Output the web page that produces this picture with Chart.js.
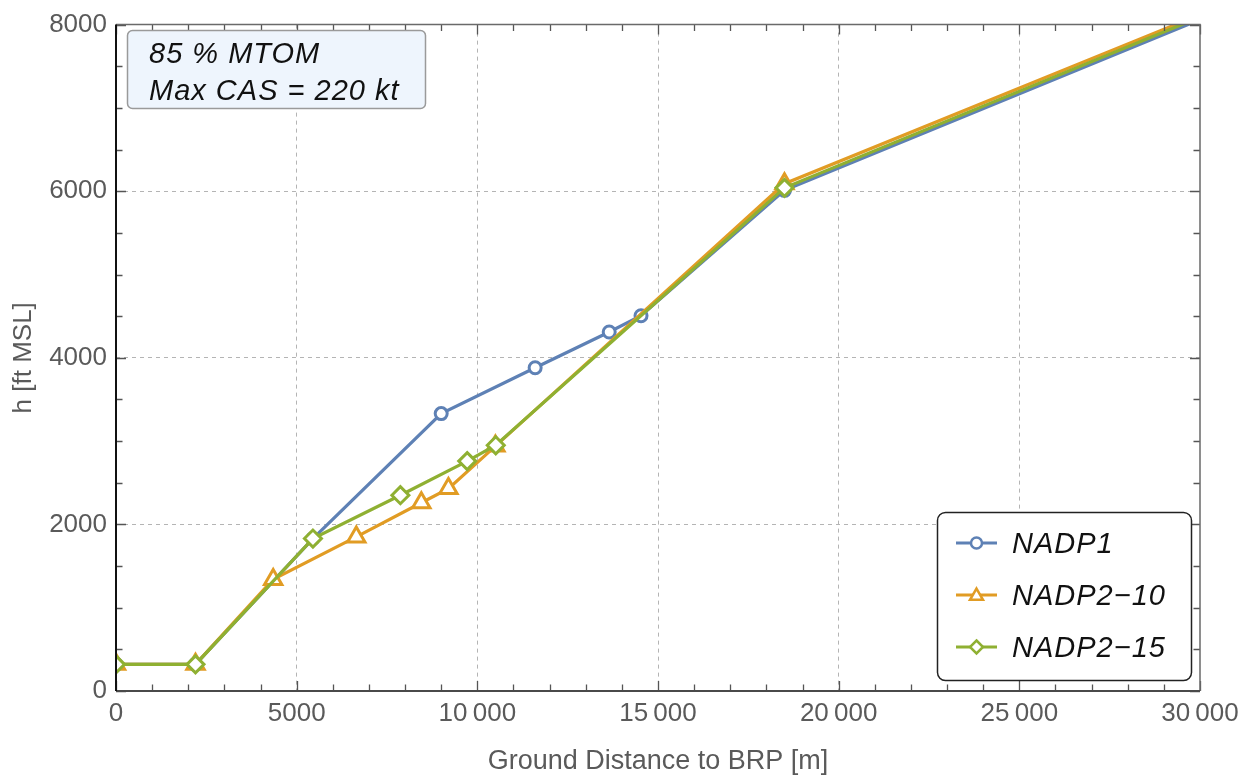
<!DOCTYPE html>
<html lang="en">
<head>
  <meta charset="UTF-8" />
  <title>NADP climb profiles</title>
  <script src="https://cdn.jsdelivr.net/npm/chart.js"></script>
  <style>
    body { margin: 0; background: #fff; }
    .wrap { position: relative; width: 1256px; height: 776px; }
  </style>
</head>
<body>
  <div class="wrap"><canvas id="climbChart"></canvas></div>

  <script>
    // ground distance [m] and altitude [ft MSL] per procedure
    const xNADP1 = [0, 2200, 5450, 9000, 11600, 13650, 14530, 18500, 30000];
    const yNADP1 = [320, 320, 1830, 3330, 3880, 4310, 4505, 6010, 8060];

    const xNADP2_10 = [0, 2200, 4350, 6650, 8450, 9200, 10500, 18500, 30000];
    const yNADP2_10 = [320, 320, 1340, 1850, 2260, 2430, 2940, 6090, 8120];

    const xNADP2_15 = [0, 2200, 5450, 7870, 9720, 10510, 18500, 30000];
    const yNADP2_15 = [320, 320, 1830, 2350, 2760, 2950, 6040, 8090];

    const seriesNames = ['NADP1', 'NADP2\u221210', 'NADP2\u221215'];
    const seriesColors = ['#5e81b5', '#e19c24', '#8fb032'];

    const xTicksMajor = [0, 5000, 10000, 15000, 20000, 25000, 30000];
    const yTicksMajor = [0, 2000, 4000, 6000, 8000];
    const xMinorStep = 1000;
    const yMinorStep = 500;

    const noteLines = ['85 % MTOM', 'Max CAS = 220 kt'];

    const FONT = "'Liberation Sans', Arial, sans-serif";

    const toPoints = (xs, ys) => xs.map((x, i) => ({ x: x, y: ys[i] }));
    const lastHidden = r => ctx => ctx.dataIndex === ctx.dataset.data.length - 1 ? 0 : r;

    function fmtTick(v) {
      if (v >= 10000) {
        const s = String(v);
        return s.slice(0, s.length - 3) + '\u2009' + s.slice(-3);
      }
      return String(v);
    }

    function marker(ctx, style, x, y, r) {
      ctx.beginPath();
      if (style === 'circle') {
        ctx.arc(x, y, r, 0, Math.PI * 2);
      } else if (style === 'triangle') {
        for (let k = 0; k < 3; k++) {
          const a = -Math.PI / 2 + k * 2 * Math.PI / 3;
          const px = x + Math.cos(a) * r, py = y + Math.sin(a) * r;
          k ? ctx.lineTo(px, py) : ctx.moveTo(px, py);
        }
        ctx.closePath();
      } else {
        ctx.moveTo(x, y - r); ctx.lineTo(x + r, y); ctx.lineTo(x, y + r); ctx.lineTo(x - r, y);
        ctx.closePath();
      }
      ctx.fillStyle = '#fff';
      ctx.fill();
      ctx.stroke();
    }

    function roundBox(ctx, x, y, w, h, r) {
      ctx.beginPath();
      ctx.moveTo(x + r, y);
      ctx.arcTo(x + w, y, x + w, y + h, r);
      ctx.arcTo(x + w, y + h, x, y + h, r);
      ctx.arcTo(x, y + h, x, y, r);
      ctx.arcTo(x, y, x + w, y, r);
      ctx.closePath();
    }

    // inward ticks on all four sides + frame
    const frameTicks = {
      id: 'frameTicks',
      afterDatasetsDraw(chart) {
        const { ctx, chartArea: a, scales: { x, y } } = chart;
        ctx.save();
        ctx.lineWidth = 1.3;
        ctx.strokeStyle = '#555';
        for (let v = x.min; v <= x.max; v += xMinorStep) {
          const px = Math.round(x.getPixelForValue(v)) + 0.5;
          const len = v % 5000 === 0 ? 10 : 6.5;
          ctx.beginPath();
          ctx.moveTo(px, a.bottom); ctx.lineTo(px, a.bottom - len);
          ctx.moveTo(px, a.top); ctx.lineTo(px, a.top + len);
          ctx.stroke();
        }
        for (let v = y.min; v <= y.max; v += yMinorStep) {
          const py = Math.round(y.getPixelForValue(v)) + 0.5;
          const len = v % 2000 === 0 ? 10 : 6.5;
          ctx.beginPath();
          ctx.moveTo(a.left, py); ctx.lineTo(a.left + len, py);
          ctx.moveTo(a.right, py); ctx.lineTo(a.right - len, py);
          ctx.stroke();
        }
        // top + right frame
        ctx.strokeStyle = '#6a6a6a';
        ctx.lineWidth = 1.5;
        ctx.beginPath();
        ctx.moveTo(a.left, a.top); ctx.lineTo(a.right, a.top); ctx.lineTo(a.right, a.bottom);
        ctx.stroke();
        // bottom axis
        ctx.strokeStyle = '#4a4a4a';
        ctx.lineWidth = 2;
        ctx.beginPath();
        ctx.moveTo(a.left, a.bottom); ctx.lineTo(a.right, a.bottom);
        ctx.stroke();
        // left axis
        ctx.strokeStyle = '#111';
        ctx.beginPath();
        ctx.moveTo(a.left, a.top); ctx.lineTo(a.left, a.bottom);
        ctx.stroke();
        ctx.restore();
      }
    };

    // annotation box + legend inside the plot
    const overlays = {
      id: 'overlays',
      afterDraw(chart) {
        const { ctx } = chart;
        ctx.save();
        ctx.letterSpacing = '1px';

        // note box
        roundBox(ctx, 127.5, 30.5, 298, 78, 5);
        ctx.fillStyle = '#eef5fd';
        ctx.fill();
        ctx.strokeStyle = '#9a9a9a';
        ctx.lineWidth = 1.5;
        ctx.stroke();
        ctx.fillStyle = '#111';
        ctx.font = 'italic 29px ' + FONT;
        ctx.textBaseline = 'alphabetic';
        ctx.fillText(noteLines[0], 149, 63);
        ctx.fillText(noteLines[1], 149, 100);

        // legend
        roundBox(ctx, 937.5, 512.5, 254, 168, 8);
        ctx.fillStyle = '#fff';
        ctx.fill();
        ctx.strokeStyle = '#222';
        ctx.lineWidth = 1.5;
        ctx.stroke();
        const styles = ['circle', 'triangle', 'diamond'];
        const radii = [5.5, 7.5, 6.5];
        const rows = [543, 595, 647];
        ctx.font = 'italic 29px ' + FONT;
        chart.data.datasets.forEach((ds, i) => {
          const cy = rows[i];
          ctx.strokeStyle = seriesColors[i];
          ctx.lineWidth = 3;
          ctx.beginPath();
          ctx.moveTo(956, cy); ctx.lineTo(997, cy);
          ctx.stroke();
          ctx.lineWidth = 2.5;
          marker(ctx, styles[i], 976.5, cy + (i === 1 ? 1 : 0), radii[i]);
          ctx.fillStyle = '#111';
          ctx.fillText(ds.label, 1012, cy + 10);
        });
        ctx.restore();
      }
    };

    const gridColor = (ends) => ctx =>
      ends.includes(ctx.tick.value) ? 'rgba(0,0,0,0)' : '#b4b4b4';

    new Chart(document.getElementById('climbChart'), {
      type: 'line',
      data: {
        datasets: [
          {
            label: seriesNames[0],
            data: toPoints(xNADP1, yNADP1),
            borderColor: seriesColors[0],
            pointStyle: 'circle',
            pointRadius: lastHidden(6),
            order: 2
          },
          {
            label: seriesNames[1],
            data: toPoints(xNADP2_10, yNADP2_10),
            borderColor: seriesColors[1],
            pointStyle: 'triangle',
            pointRadius: lastHidden(10),
            order: 1
          },
          {
            label: seriesNames[2],
            data: toPoints(xNADP2_15, yNADP2_15),
            borderColor: seriesColors[2],
            pointStyle: 'rectRot',
            pointRadius: lastHidden(8.5),
            order: 0
          }
        ].map(ds => Object.assign(ds, {
          borderWidth: 3.2,
          pointBorderColor: ds.borderColor,
          pointBackgroundColor: '#fff',
          pointBorderWidth: 3,
          pointHoverRadius: 0,
          tension: 0,
          clip: 0
        }))
      },
      options: {
        responsive: true,
        maintainAspectRatio: false,
        animation: false,
        events: [],
        layout: { padding: { top: 22, right: 56, bottom: 0, left: 0 } },
        plugins: {
          legend: { display: false },
          tooltip: { enabled: false }
        },
        scales: {
          x: {
            type: 'linear',
            min: 0,
            max: 30000,
            afterFit: s => { s.height = 85; },
            afterBuildTicks: s => { s.ticks = xTicksMajor.map(v => ({ value: v })); },
            ticks: {
              callback: v => fmtTick(v),
              color: '#5a5a5a',
              font: { family: FONT, size: 26 },
              padding: 7,
              maxRotation: 0,
              autoSkip: false
            },
            grid: { color: gridColor([0, 30000]), lineWidth: 1, drawTicks: false },
            border: { display: false, dash: [4, 4] },
            title: {
              display: true,
              text: 'Ground Distance to BRP [m]',
              color: '#5a5a5a',
              font: { family: FONT, size: 27 },
              padding: { top: 0, bottom: -2 }
            }
          },
          y: {
            type: 'linear',
            min: 0,
            max: 8000,
            afterFit: s => { s.width = 116; },
            afterBuildTicks: s => { s.ticks = yTicksMajor.map(v => ({ value: v })); },
            ticks: {
              callback: v => String(v),
              color: '#5a5a5a',
              font: { family: FONT, size: 26 },
              padding: 9,
              autoSkip: false
            },
            grid: { color: gridColor([0, 8000]), lineWidth: 1, drawTicks: false },
            border: { display: false, dash: [4, 4] },
            title: {
              display: true,
              text: 'h [ft MSL]',
              color: '#5a5a5a',
              font: { family: FONT, size: 26 },
              padding: { top: 8, bottom: 0 }
            }
          }
        }
      },
      plugins: [frameTicks, overlays]
    });
  </script>
</body>
</html>
